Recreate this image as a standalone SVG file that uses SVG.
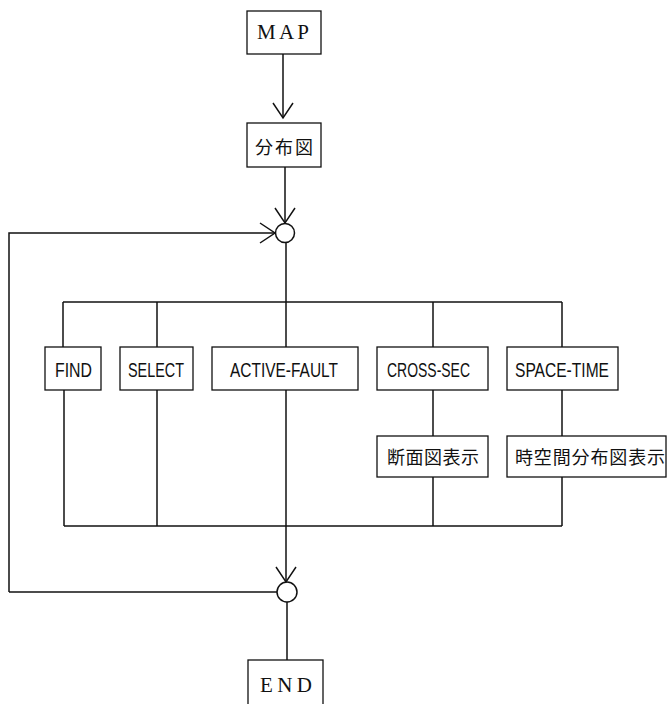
<svg xmlns="http://www.w3.org/2000/svg" width="667" height="704" viewBox="0 0 667 704">
<style>
.box{fill:#fff;stroke:#111;stroke-width:1.3}
.ln{fill:none;stroke:#111;stroke-width:1.5}
.serif{font-family:"Liberation Serif",serif;font-size:21px;fill:#111}
.lat{font-family:"Liberation Sans",sans-serif;font-size:21px;fill:#111}
.cjk{font-family:"Noto Sans CJK JP","Noto Sans CJK SC",sans-serif;font-size:18px;fill:#111}
</style>
<defs>
<marker id="arr" markerUnits="userSpaceOnUse" markerWidth="30" markerHeight="30" viewBox="-20 -15 30 30" refX="0" refY="0" orient="auto" overflow="visible">
<path d="M-15,-10 L0,0 L-15,10" fill="none" stroke="#111" stroke-width="1.5"/>
</marker>
</defs>
<g id="connectors">
<line class="ln" x1="283" y1="54" x2="283" y2="118" marker-end="url(#arr)"/>
<line class="ln" x1="285" y1="167" x2="285" y2="223" marker-end="url(#arr)"/>
<polyline class="ln" points="9,592 9,233 275,233" marker-end="url(#arr)"/>
<line class="ln" x1="9" y1="592" x2="277" y2="592"/>
<line class="ln" x1="286" y1="243" x2="286" y2="347"/>
<line class="ln" x1="63" y1="302" x2="562" y2="302"/>
<line class="ln" x1="63" y1="302" x2="63" y2="347"/>
<line class="ln" x1="157" y1="302" x2="157" y2="347"/>
<line class="ln" x1="433" y1="302" x2="433" y2="347"/>
<line class="ln" x1="562" y1="302" x2="562" y2="347"/>
<line class="ln" x1="64" y1="390" x2="64" y2="526"/>
<line class="ln" x1="157" y1="390" x2="157" y2="526"/>
<line class="ln" x1="433" y1="390" x2="433" y2="436"/>
<line class="ln" x1="562" y1="390" x2="562" y2="436"/>
<line class="ln" x1="433" y1="477" x2="433" y2="526"/>
<line class="ln" x1="562" y1="477" x2="562" y2="526"/>
<line class="ln" x1="64" y1="526" x2="562" y2="526"/>
<line class="ln" x1="286" y1="390" x2="286" y2="582" marker-end="url(#arr)"/>
<line class="ln" x1="287" y1="602" x2="287" y2="660"/>
</g>
<g id="map"><rect class="box" x="247" y="11" width="74" height="43"/><text class="serif" x="257" y="39" textLength="52" lengthAdjust="spacing">MAP</text></g>
<g id="bunpuzu"><rect class="box" x="247" y="123" width="74" height="44"/><text class="cjk" x="255" y="154" font-size="19" textLength="58">分布図</text></g>
<g id="junction1"><circle class="ln" cx="285" cy="233" r="9.5" fill="#fff"/></g>
<g id="find"><rect class="box" x="45" y="347" width="56" height="43"/><text class="lat" x="55" y="377" textLength="37" lengthAdjust="spacingAndGlyphs">FIND</text></g>
<g id="select"><rect class="box" x="120" y="347" width="73" height="43"/><text class="lat" x="128" y="377" textLength="56" lengthAdjust="spacingAndGlyphs">SELECT</text></g>
<g id="active-fault"><rect class="box" x="212" y="347" width="146" height="43"/><text class="lat" x="230" y="377" textLength="108" lengthAdjust="spacingAndGlyphs">ACTIVE-FAULT</text></g>
<g id="cross-sec"><rect class="box" x="377" y="347" width="111" height="43"/><text class="lat" x="387" y="377" textLength="83" lengthAdjust="spacingAndGlyphs">CROSS-SEC</text></g>
<g id="space-time"><rect class="box" x="507" y="347" width="111" height="43"/><text class="lat" x="515" y="377" textLength="94" lengthAdjust="spacingAndGlyphs">SPACE-TIME</text></g>
<g id="danmenzu"><rect class="box" x="377" y="436" width="111" height="41"/><text class="cjk" x="387" y="464" textLength="92">断面図表示</text></g>
<g id="jikukan"><rect class="box" x="507" y="436" width="159" height="41"/><text class="cjk" x="515" y="464" textLength="150">時空間分布図表示</text></g>
<g id="junction2"><circle class="ln" cx="287" cy="592" r="10" fill="#fff"/></g>
<g id="end"><rect class="box" x="248" y="660" width="75" height="46"/><text class="serif" x="260" y="692" textLength="52" lengthAdjust="spacing">END</text></g>
</svg>
